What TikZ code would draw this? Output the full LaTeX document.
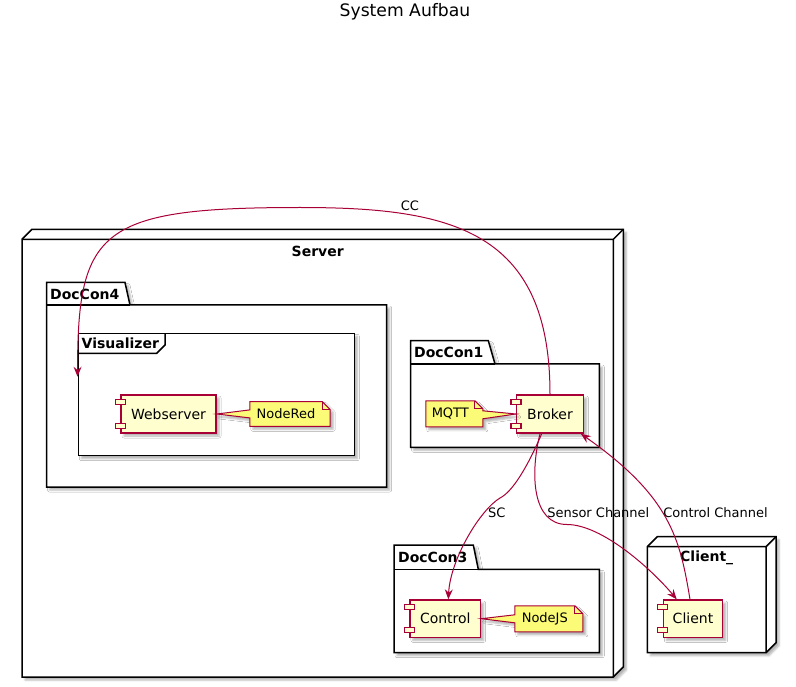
\documentclass[tikz,border=0pt]{standalone}
\usepackage{fontspec}
\setmainfont{DejaVu Sans}
\usetikzlibrary{arrows.meta,shadows.blur}
\definecolor{umlred}{HTML}{A80036}
\definecolor{compfill}{HTML}{FEFECE}
\definecolor{notefill}{HTML}{FBFB77}
\newcommand\mypkg[7]{%
  \path[fill=white,shad] (#1,#2) -- (#3,#2) -- (#4,#5) -- (#6,#5) -- (#6,#7) -- (#1,#7) -- cycle;
  \draw[boxline] (#1,#2) -- (#3,#2) -- (#4,#5) -- (#6,#5) -- (#6,#7) -- (#1,#7) -- cycle;
  \draw[boxline] (#1,#5) -- (#4,#5);}
\begin{document}
\begin{tikzpicture}[x=1pt,y=-1pt,
  shad/.style={blur shadow={shadow xshift=3pt,shadow yshift=-3pt,shadow blur radius=2pt,shadow opacity=30}},
  boxline/.style={draw=black,line width=1.5pt,line join=miter},
  bold14/.style={font=\fontsize{14}{16}\selectfont\bfseries,inner sep=0pt},
  comp/.style={draw=umlred,fill=compfill,line width=1.5pt,minimum height=38pt,inner sep=0pt,
    font=\fontsize{14}{16}\selectfont,shad},
  smallrect/.style={draw=umlred,fill=compfill,line width=1.2pt},
  notetxt/.style={inner sep=0pt,minimum height=25pt,font=\fontsize{13}{15}\selectfont},
  noteshape/.style={draw=umlred,fill=notefill,line width=1pt,line join=miter,shad},
  edge/.style={draw=umlred,line width=1pt},
  arr/.style={-{Stealth[length=10pt,width=8pt,inset=3.5pt]}},
  elabel/.style={font=\fontsize{13}{15}\selectfont,inner sep=0pt}]
\useasboundingbox (0,0) rectangle (796,687);

\node[font=\fontsize{17.2}{20}\selectfont,inner sep=0pt] (title) at (405,12) {System Aufbau};

% Server node (3D box)
\path[fill=white,shad] (22,239.3) -- (32,229.3) -- (623.3,229.3) -- (623.3,667) -- (613.3,677) -- (22,677) -- cycle;
\draw[boxline] (22,239.3) -- (32,229.3) -- (623.3,229.3) -- (623.3,667) -- (613.3,677) -- (22,677) -- cycle;
\draw[boxline] (22,239.3) -- (613.3,239.3) -- (613.3,677) (613.3,239.3) -- (623.3,229.3);
% Client_ node
\path[fill=white,shad] (647.3,546.7) -- (657.3,536.7) -- (776,536.7) -- (776,642.7) -- (766,652.7) -- (647.3,652.7) -- cycle;
\draw[boxline] (647.3,546.7) -- (657.3,536.7) -- (776,536.7) -- (776,642.7) -- (766,652.7) -- (647.3,652.7) -- cycle;
\draw[boxline] (647.3,546.7) -- (766,546.7) -- (766,652.7) (766,546.7) -- (776,536.7);
% packages
\mypkg{46.5}{282.5}{125}{130}{305}{386.7}{487}
\mypkg{410.7}{340.7}{488.3}{495}{364}{599.3}{447.3}
\mypkg{394}{545}{473.3}{478.3}{569.3}{599.3}{652.7}
% Visualizer frame
\node[boxline,fill=white,shad,minimum width=276pt,minimum height=122.4pt,inner sep=0pt] (vis) at (216.3,394.5) {};
\draw[boxline] (78.3,353.3) -- (156.7,353.3) -- (165,345) -- (165,333.3);

\node[bold14] (lserver) at (317.7,251) {Server};
\node[bold14] (lclientn) at (706.7,557.5) {Client\_};
\node[bold14,anchor=west] (ldc4) at (50,294) {DocCon4};
\node[bold14,anchor=west] (ldc1) at (414,352) {DocCon1};
\node[bold14,anchor=west] (ldc3) at (398,557) {DocCon3};
\node[bold14,anchor=west] (lvis) at (81.5,343) {Visualizer};

% components
\node[comp,minimum width=95pt] (web) at (168.5,414) {Webserver};
\node[comp,minimum width=66.7pt] (broker) at (550,414) {Broker};
\node[comp,minimum width=70.7pt,minimum height=37.3pt] (control) at (445.3,618.7) {Control};
\node[comp,minimum width=59.3pt,minimum height=37.3pt] (client) at (693,618.7) {Client};
\foreach \c in {web,broker,control,client}{
  \draw[smallrect] ([xshift=-5pt,yshift=-5pt]\c.north west) rectangle ++(10,5);
  \draw[smallrect] ([xshift=-5pt,yshift=5.3pt]\c.south west) rectangle ++(10,-5);
}

% notes: placeholder boxes, shapes, then text
\node[notetxt,minimum width=80pt,minimum height=24.3pt] (n1) at (290,413.9) {};
\node[notetxt,minimum width=56.7pt,minimum height=25.7pt] (n2) at (454.3,413.8) {};
\node[notetxt,minimum width=67.7pt,minimum height=25.7pt] (n3) at (548.8,618.8) {};

\path[noteshape] (n1.north west) -- ([xshift=-8pt]n1.north east) -- ([yshift=-8pt]n1.north east) -- (n1.south east)
  -- (n1.south west) -- ([yshift=-4pt]n1.west) -- (web.east) -- ([yshift=4pt]n1.west) -- cycle;
\draw[umlred,line width=1pt] ([xshift=-8pt]n1.north east) -- ([xshift=-8pt,yshift=-8pt]n1.north east) -- ([yshift=-8pt]n1.north east);
\path[noteshape] (n2.north west) -- ([xshift=-8pt]n2.north east) -- ([yshift=-8pt]n2.north east) -- ([yshift=3pt]n2.east)
  -- (broker.west) -- ([yshift=-5pt]n2.east) -- (n2.south east) -- (n2.south west) -- cycle;
\draw[umlred,line width=1pt] ([xshift=-8pt]n2.north east) -- ([xshift=-8pt,yshift=-8pt]n2.north east) -- ([yshift=-8pt]n2.north east);
\path[noteshape] (n3.north west) -- ([xshift=-8pt]n3.north east) -- ([yshift=-8pt]n3.north east) -- (n3.south east)
  -- (n3.south west) -- ([yshift=-4pt]n3.west) -- (control.east) -- ([yshift=4pt]n3.west) -- cycle;
\draw[umlred,line width=1pt] ([xshift=-8pt]n3.north east) -- ([xshift=-8pt,yshift=-8pt]n3.north east) -- ([yshift=-8pt]n3.north east);

\node[notetxt] (t1) at (n1.center) {NodeRed\hspace*{8pt}};
\node[notetxt] (t2) at (n2.center) {MQTT\hspace*{8pt}};
\node[notetxt] (t3) at (n3.center) {NodeJS\hspace*{8pt}};

% edges
\coordinate (cctop) at (300,207.5);
\coordinate (scbend) at (500,498);
\coordinate (sbend) at (567,524.5);
\draw[edge,arr] (broker.north) .. controls +(0,-165) and +(150,0) .. (cctop)
  .. controls +(-200,0) and +(0,-147) .. ([yshift=17.8pt]vis.west);
\draw[edge,arr] ([xshift=-8.3pt]broker.south) .. controls +(-15,35) and +(12,-6) .. (scbend)
  .. controls +(-20,12) and +(2,-40) .. ([xshift=3pt]control.north);
\draw[edge,arr] ([xshift=-10pt]broker.south) .. controls +(-10,40) and +(-35,0) .. (sbend)
  .. controls +(35,0) and +(-25,-30) .. ([xshift=-16.3pt]client.north);
\draw[edge,arr] ([xshift=-3pt]client.north) .. controls +(-10,-60) and +(90,63) .. ([xshift=-3.3pt]broker.south east);

\node[elabel] (lcc) at (410,206) {CC};
\node[elabel] (lsc) at (496.7,512.5) {SC};
\node[elabel] (lsen) at (598.3,512.5) {Sensor Channel};
\node[elabel] (lctl) at (715.5,512.5) {Control Channel};
\end{tikzpicture}
\end{document}
